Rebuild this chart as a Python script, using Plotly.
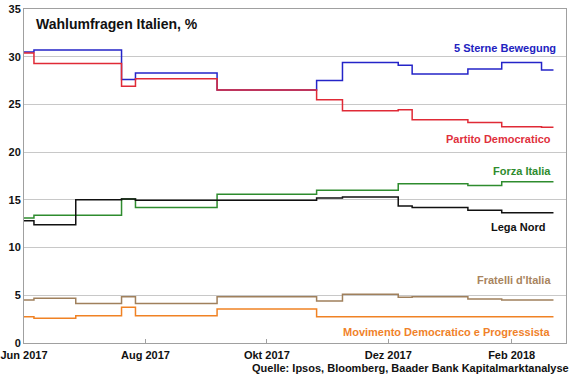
import plotly.graph_objects as go

# Dates at which the poll averages change (last entry = end of series)
dates = ["2017-06-01", "2017-06-06", "2017-06-27", "2017-07-20", "2017-07-27",
         "2017-09-06", "2017-10-26", "2017-11-08", "2017-12-06", "2017-12-13",
         "2018-01-10", "2018-01-27", "2018-02-16", "2018-02-22"]

m5s = [30.5, 30.7, 30.7, 27.6, 28.3, 26.5, 27.5, 29.4, 29.1, 28.2, 28.7, 29.4, 28.6, 28.6]
pd_ = [30.4, 29.3, 29.3, 26.9, 27.7, 26.5, 25.5, 24.35, 24.45, 23.4, 23.1, 22.65, 22.6, 22.6]
fi = [13.1, 13.4, 13.4, 15.1, 14.2, 15.6, 16.0, 16.0, 16.7, 16.7, 16.5, 16.9, 16.9, 16.9]
lega = [12.8, 12.4, 15.0, 15.1, 14.95, 14.95, 15.2, 15.3, 14.35, 14.2, 13.9, 13.65, 13.65, 13.65]
fdi = [4.5, 4.7, 4.15, 4.85, 4.15, 4.85, 4.4, 5.1, 4.8, 4.85, 4.6, 4.5, 4.5, 4.5]
mdp = [2.75, 2.6, 2.85, 3.75, 2.85, 3.55, 2.75, 2.75, 2.75, 2.75, 2.75, 2.75, 2.75, 2.75]

tick_vals = ["2017-06-01", "2017-08-01", "2017-10-01", "2017-12-01", "2018-02-01"]
tick_text = ["Jun 2017", "Aug 2017", "Okt 2017", "Dez 2017", "Feb 2018"]
y_ticks = [0, 5, 10, 15, 20, 25, 30, 35]

series = [
    ("5 Sterne Bewegung", m5s, "#2424c8", "#2222c0", 558, 30.9),
    ("Partito Democratico", pd_, "#e02a36", "#e0303c", 553, 21.4),
    ("Forza Italia", fi, "#2e8c2e", "#2e8c2e", 553, 18.0),
    ("Lega Nord", lega, "#111111", "#111111", 547, 12.2),
    ("Fratelli d'Italia", fdi, "#a0805c", "#a8845e", 553, 6.6),
    ("Movimento Democratico e Progressista", mdp, "#f08224", "#f0822a", 553, 1.15),
]

FONT = "Liberation Sans, Arial, sans-serif"
L, R = 24, 566

fig = go.Figure()
annotations = []
for name, vals, col, tcol, xr, ylab in series:
    fig.add_trace(go.Scatter(x=dates, y=vals, mode="lines", name=name,
                             line=dict(color=col, width=1.5, shape="hv"),
                             hoverinfo="x+y+name"))
    annotations.append(dict(x=(xr - L) / (R - L), xref="paper", y=ylab, yref="y",
                            text="<b>%s</b>" % name, showarrow=False,
                            xanchor="right", yanchor="middle",
                            font=dict(family=FONT, size=11, color=tcol)))

annotations.append(dict(x=(33.5 - L) / (R - L), xref="paper", y=0.955, yref="paper",
                        text="<b>Wahlumfragen Italien, %</b>", showarrow=False,
                        xanchor="left", yanchor="middle",
                        font=dict(family=FONT, size=14, color="#111111")))
annotations.append(dict(x=(571 - L) / (R - L), xref="paper", y=-0.075, yref="paper",
                        text="<b>Quelle: Ipsos, Bloomberg, Baader Bank Kapitalmarktanalyse</b>",
                        showarrow=False, xanchor="right", yanchor="middle",
                        font=dict(family=FONT, size=11, color="#111111")))

fig.update_layout(
    width=580, height=375,
    margin=dict(l=24, r=14, t=9, b=32),
    paper_bgcolor="white", plot_bgcolor="white",
    showlegend=False,
    annotations=annotations,
    font=dict(family=FONT, size=11, color="#111111"),
)
fig.update_xaxes(type="date", range=["2017-06-01", "2018-02-28 07:00"],
                 tickvals=tick_vals, ticktext=["<b>%s</b>" % t for t in tick_text],
                 tickfont=dict(family=FONT, size=11, color="#111111"),
                 ticks="inside", ticklen=4, tickcolor="#a0a0a0",
                 ticklabelstandoff=2, automargin=False,
                 showgrid=False, showline=True, linecolor="#a0a0a0", linewidth=1,
                 mirror=True, zeroline=False)
fig.update_yaxes(range=[0, 35], tickvals=y_ticks,
                 ticktext=["<b>%d</b>" % v for v in y_ticks],
                 tickfont=dict(family=FONT, size=11, color="#111111"),
                 ticks="", automargin=False,
                 showgrid=True, gridcolor="#c8c8c8", gridwidth=1,
                 showline=True, linecolor="#a0a0a0", linewidth=1, mirror=True,
                 zeroline=False)

fig.write_html("out.html", config={"displayModeBar": False},
               post_script="document.body.style.margin='0';document.body.style.overflow='hidden';")
